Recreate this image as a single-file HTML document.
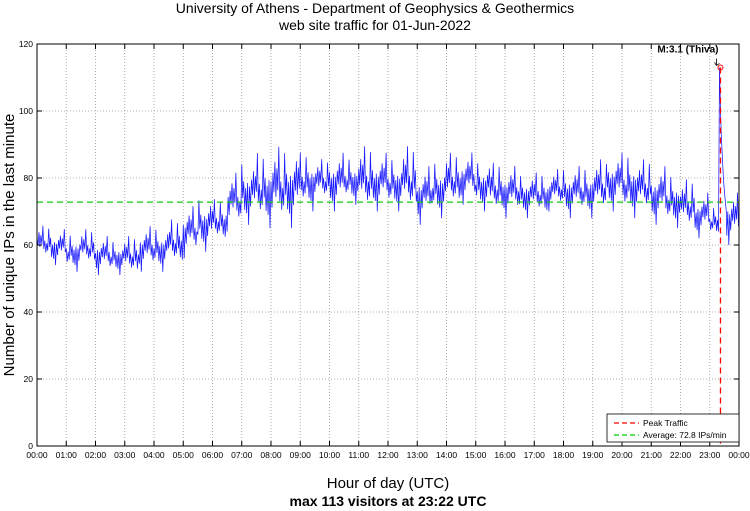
<!DOCTYPE html>
<html><head><meta charset="utf-8"><style>
body{margin:0;background:#fff;}
svg{display:block;font-family:"Liberation Sans",sans-serif;}
</style></head><body>
<svg id="chart" width="750" height="511">
<text x="375" y="13" font-size="14" text-anchor="middle">University of Athens - Department of Geophysics &amp; Geothermics</text>
<text x="375" y="30" font-size="14" text-anchor="middle">web site traffic for 01-Jun-2022</text>
<g id="grid"></g>
<g id="series"></g>
<g id="axes"></g>
<text transform="translate(14,245) rotate(-90)" font-size="15" text-anchor="middle">Number of unique IPs in the last minute</text>
<text x="388" y="488" font-size="15" text-anchor="middle">Hour of day (UTC)</text>
<text x="388" y="506" font-size="14" font-weight="bold" text-anchor="middle">max 113 visitors at 23:22 UTC</text>
<g>
<rect x="607" y="414" width="132" height="28" fill="#fff" stroke="#000" stroke-width="0.8"/>
<line x1="614" y1="423" x2="639" y2="423" stroke="#f00" stroke-dasharray="5,3" stroke-width="1.2"/>
<text x="643" y="426" font-size="8.5">Peak Traffic</text>
<line x1="614" y1="435" x2="639" y2="435" stroke="#0c0" stroke-dasharray="5,3" stroke-width="1.2"/>
<text x="643" y="438" font-size="8.5">Average: 72.8 IPs/min</text>
</g>
</svg>
<script>
const lowVals=[55,54,52,53,51,51,50,52,52,53,56,58,60,64,66,65,64,65,70,72,70,72,68,70,70,68,66,68,70,72,70,68,68,68,68,70,68,68,68,70,68,68,66,65,63,62,62,60];
const highVals=[66,65,64,65,63,62,63,66,66,68,72,75,74,82,86,88,90,90,88,86,88,87,90,88,87,90,84,86,88,88,86,85,84,82,82,83,84,84,86,88,88,86,84,82,80,76,72,76];
const peakMinutes=[1398,1400,1402,1404,1406,1408,1410,1414];
const peakValues=[64,113,100,92,86,80,76,70];
const yTicks=[0,20,40,60,80,100,120];
const xTickLabels=["00:00","01:00","02:00","03:00","04:00","05:00","06:00","07:00","08:00","09:00","10:00","11:00","12:00","13:00","14:00","15:00","16:00","17:00","18:00","19:00","20:00","21:00","22:00","23:00","00:00"];
const averageValue=72.8;
const peakMinute=1402;const peakValue=113;

const L=37,R=739,T=44,B=446;
const X=m=>L+(m/1440)*(R-L);
const Y=v=>B-(v/120)*(B-T);
const NS="http://www.w3.org/2000/svg";
function mk(p,tag,a){const e=document.createElementNS(NS,tag);for(const k in a)e.setAttribute(k,a[k]);p.appendChild(e);return e;}
const grid=document.getElementById('grid'),axes=document.getElementById('axes'),ser=document.getElementById('series');
mk(grid,'rect',{x:L,y:T,width:R-L,height:B-T,fill:'#fff'});
yTicks.forEach(v=>{
 if(v>0&&v<120){const g=mk(grid,'line',{x1:L,x2:R,y1:Y(v),y2:Y(v),stroke:'#999','stroke-dasharray':'1,2','stroke-width':0.8});
 
 }
 const t=mk(axes,'text',{x:L-4,y:Y(v)+3,'font-size':8.5,'text-anchor':'end'});t.textContent=v;
 
 
 mk(axes,'line',{x1:L,x2:L+5,y1:Y(v),y2:Y(v),stroke:'#000'});mk(axes,'line',{x1:R,x2:R-5,y1:Y(v),y2:Y(v),stroke:'#000'});
});
xTickLabels.forEach((s,i)=>{
 const x=X(i*60);
 if(i>0&&i<24){const g=mk(grid,'line',{x1:x,x2:x,y1:T,y2:B,stroke:'#999','stroke-dasharray':'1,2','stroke-width':0.8});
 
 }
 const t=mk(axes,'text',{x:x,y:B+12,'font-size':8.5,'text-anchor':'middle'});t.textContent=s;
 
 
 mk(axes,'line',{x1:x,x2:x,y1:B,y2:B-5,stroke:'#000'});mk(axes,'line',{x1:x,x2:x,y1:T,y2:T+5,stroke:'#000'});
});
mk(axes,'rect',{x:L,y:T,width:R-L,height:B-T,fill:'none',stroke:'#000','stroke-width':1});
const pat=[0.35,0.1,0.6,0.2,0.45,0.05,0.95,0.3,0.15,0.5,0.0,0.4,0.8,0.2,0.3,0.55,0.1,0.65,0.25,1.0,0.15,0.45];
const STEP=2;
let pts=[],k=0;
lowVals.forEach((lo,i)=>{
 const hi=highVals[i],m0=i*30,m1=Math.min(m0+30,peakMinutes[0]);
 if(m0>=peakMinutes[0]){return;}
 for(let m=m0;m<m1;m+=STEP){const f=pat[k%pat.length];k++;
  const mid=(lo+hi)/2,v=(k%2?mid+(hi-mid)*f:mid-(mid-lo)*f);pts.push([X(m),Y(v)]);}
});
peakMinutes.forEach((m,i)=>pts.push([X(m),Y(peakValues[i])]));
const last=lowVals.length-1;
for(let m=peakMinutes[peakMinutes.length-1]+1;m<1440;m+=STEP){const f=pat[k%pat.length];k++;
 const lo=lowVals[last],hi=highVals[last],mid=(lo+hi)/2;const v=(k%2?mid+(hi-mid)*f:mid-(mid-lo)*f);pts.push([X(m),Y(v)]);}
const pl=mk(ser,'polyline',{points:pts.map(p=>p[0].toFixed(1)+','+p[1].toFixed(1)).join(' '),fill:'none',stroke:'#00f','stroke-width':0.75,'stroke-opacity':0.9});


const av=mk(ser,'line',{x1:L,x2:R,y1:Y(averageValue),y2:Y(averageValue),stroke:'#1c1','stroke-width':1.3,'stroke-dasharray':'6,4'});


const px=X(peakMinute),py=Y(peakValue);
const pk=mk(ser,'line',{x1:px,x2:px,y1:py,y2:B,stroke:'#f00','stroke-width':1.3,'stroke-dasharray':'6,4'});


const c=mk(ser,'circle',{cx:px,cy:py,r:2.5,fill:'none',stroke:'#f00','stroke-width':1});


const ar=mk(ser,'path',{d:`M${px-4},${py-9} L${px-4},${py-2} M${px-6},${py-5} L${px-4},${py-2} L${px-1},${py-4}`,stroke:'#000',fill:'none','stroke-width':0.8});


const at=mk(ser,'text',{x:px-2,y:py-15,'font-size':10,'font-weight':'bold','text-anchor':'end'});at.textContent='M:3.1 (Thiva)';


</script>
</body></html>
